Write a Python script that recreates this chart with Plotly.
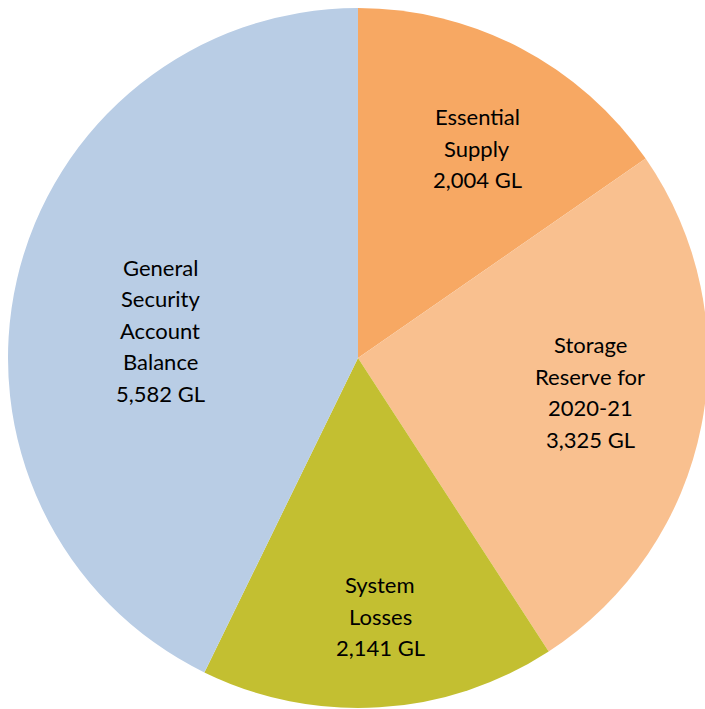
import math
import plotly.graph_objects as go

categories = ["Essential Supply", "Storage Reserve for 2020-21", "System Losses",
              "General Security Account Balance"]
values = [2004, 3325, 2141, 5582]
label_lines = [["Essential", "Supply"], ["Storage", "Reserve for", "2020-21"],
               ["System", "Losses"], ["General", "Security", "Account", "Balance"]]
colors = ["#F7A863", "#F9C08F", "#C3BF31", "#B9CDE5"]

# figure is a little wider than the window so the pie is cut at the right edge
W, H = 713, 709
CX, CY, R = 358, 358, 350
# label placement (radius fraction, angle tweak in degrees)
label_frac = [0.69, 0.67, 0.74, 0.57]
label_dang = [2.0, -2.8, -1.4, -5.0]
LINE_H = 31.5

fig = go.Figure(go.Pie(
    labels=categories, values=values, sort=False, direction="clockwise",
    rotation=0, marker=dict(colors=colors, line=dict(width=0)),
    textinfo="none", hoverinfo="label+value", showlegend=False,
    domain=dict(x=[(CX - R) / W, (CX + R) / W],
                y=[max(0, 1 - (CY + R) / H), 1 - (CY - R) / H]),
))

total = sum(values)
cum = 0
annotations = []
for i, v in enumerate(values):
    mid = (cum + v / 2) / total * 360 + label_dang[i]
    cum += v
    r = label_frac[i] * 350
    px = CX + r * math.sin(math.radians(mid))
    py = CY - r * math.cos(math.radians(mid))
    lines = label_lines[i] + [f"{v:,} GL"]
    n = len(lines)
    for j, t in enumerate(lines):
        ly = py + (j - (n - 1) / 2) * LINE_H
        annotations.append(dict(
            x=px / W, y=1 - ly / H, xref="paper", yref="paper", text=t,
            showarrow=False, xanchor="center", yanchor="middle",
            font=dict(family="Lato", size=22, color="#000000"),
        ))

fig.update_layout(
    width=W, height=H, margin=dict(l=0, r=0, t=0, b=0),
    paper_bgcolor="white", plot_bgcolor="white", annotations=annotations,
)
fig.write_html(
    "out.html",
    config={"displayModeBar": False},
    post_script="document.body.style.margin='0';document.body.style.overflow='hidden';",
)
